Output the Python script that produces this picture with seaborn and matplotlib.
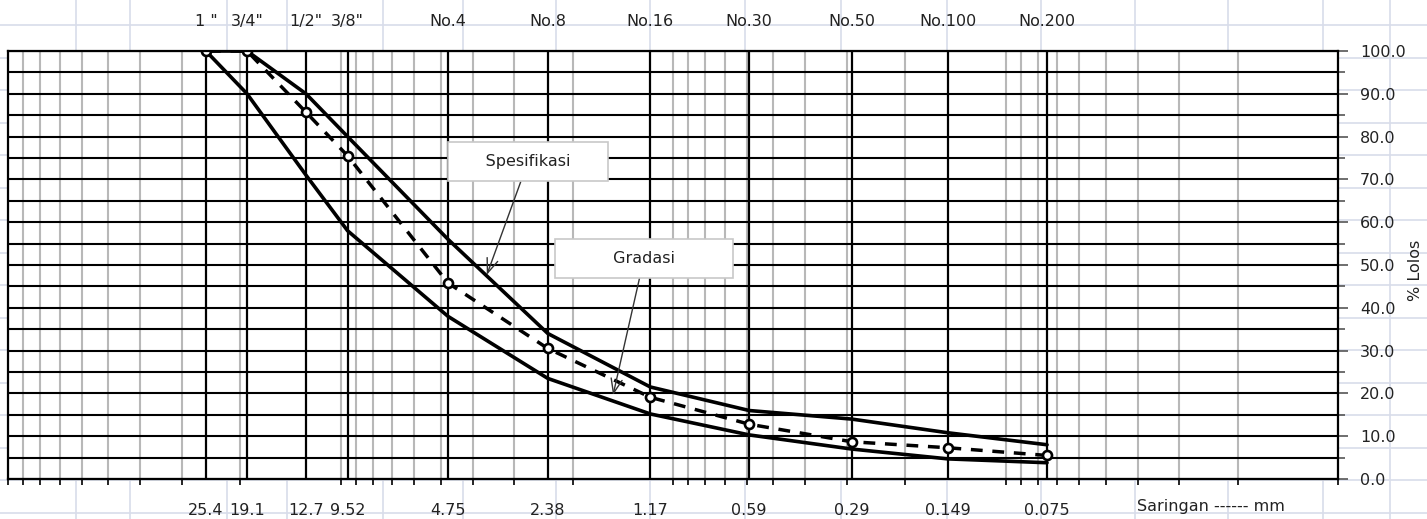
import matplotlib
matplotlib.use('Agg')
import matplotlib.pyplot as plt
import matplotlib.ticker as mticker
from matplotlib.lines import Line2D
import seaborn as sns

# sieve data
sizes = [25.4, 19.1, 12.7, 9.52, 4.75, 2.38, 1.17, 0.59, 0.29, 0.149, 0.075]
size_labels = ['25.4', '19.1', '12.7', '9.52', '4.75', '2.38', '1.17', '0.59', '0.29', '0.149', '0.075']
sieve_names = ['1 "', '3/4"', '1/2"', '3/8"', 'No.4', 'No.8', 'No.16', 'No.30', 'No.50', 'No.100', 'No.200']
gradasi = [100, 100, 85.7, 75.5, 45.8, 30.5, 19.1, 12.8, 8.7, 7.3, 5.5]
spec_upper = [100, 100, 90, 80, 56, 34, 21.5, 16, 14, 10.8, 8]
spec_lower = [100, 90, 71, 58, 38, 23.5, 15.2, 10.3, 7, 4.7, 3.8]

sns.set_style("white")
plt.rcParams['font.family'] = ['DejaVu Sans']
txt = '#222222'

W, H = 1427, 519
fig = plt.figure(figsize=(W / 100, H / 100), dpi=100, facecolor='white')

# spreadsheet cell lines behind the chart
cell_cols = [76, 130, 227, 287, 383, 463, 556, 650, 745, 841, 947, 1041, 1135, 1228, 1323, 1390]
cell_rows = [25 + 32.5 * i for i in range(16)]
for cx in cell_cols:
    fig.add_artist(Line2D([cx / W, cx / W], [0, 1], color='#d8ddea', lw=1.2, zorder=0))
for cy in cell_rows:
    fig.add_artist(Line2D([0, 1], [1 - cy / H, 1 - cy / H], color='#d8ddea', lw=1.2, zorder=0))

ax = fig.add_axes([8 / W, (H - 479) / H, 1330 / W, 428 / H])
ax.set_facecolor('white')
ax.set_xscale('log')
ax.set_xlim(100, 0.01)
ax.set_ylim(0, 100)

# grid: gray log lines vertically, black every 5 % horizontally
ax.xaxis.set_minor_locator(mticker.LogLocator(base=10, subs=range(1, 10), numticks=50))
ax.xaxis.set_minor_formatter(mticker.NullFormatter())
ax.grid(which='minor', axis='x', color='#b8b8b8', lw=1.5, zorder=0)
ax.set_yticks(range(0, 101, 10))
ax.set_yticks(range(0, 101, 5), minor=True)
ax.grid(which='both', axis='y', color='black', lw=1.5, zorder=1)
ax.vlines(sizes, 0, 100, color='black', lw=1.6, zorder=2)

sns.lineplot(x=sizes, y=spec_upper, color='black', lw=2.6, ax=ax, zorder=4)
sns.lineplot(x=sizes, y=spec_lower, color='black', lw=2.6, ax=ax, zorder=4)
sns.lineplot(x=sizes, y=gradasi, color='black', lw=2.5, ax=ax, zorder=5,
             linestyle=(0, (3.4, 2.8)), marker='o', markersize=6.5,
             markerfacecolor='white', markeredgecolor='black', markeredgewidth=1.9)

# bottom axis: sizes in mm
ax.set_xticks(sizes)
ax.set_xticklabels(size_labels)
ax.tick_params(axis='x', which='major', length=0, pad=17, labelsize=11.5, labelcolor=txt)
ax.tick_params(axis='x', which='minor', bottom=True, length=4, width=1.2, color='black')

# right axis: % passing
ax.yaxis.tick_right()
ax.yaxis.set_major_formatter(mticker.FormatStrFormatter('%.1f'))
ax.tick_params(axis='y', which='major', length=7, width=1.2, pad=9, labelsize=11.5,
               labelcolor=txt, color='#555555')
ax.tick_params(axis='y', which='minor', length=5, width=1.2, color='#555555')
ax.set_ylabel('% Lolos', fontsize=11.5, color=txt, rotation=90)
ax.yaxis.set_label_position('right')
ax.yaxis.set_label_coords(1.0526, 0.488)

# top axis: sieve names
top = ax.secondary_xaxis('top')
top.set_xticks(sizes)
top.set_xticklabels(sieve_names)
top.tick_params(axis='x', which='major', length=0, pad=16, labelsize=11.5, labelcolor=txt)
top.tick_params(axis='x', which='minor', length=0)
top.spines['top'].set_visible(False)

for s in ax.spines.values():
    s.set_color('black')
    s.set_linewidth(1.6)
    s.set_zorder(6)

ax.set_xlabel('')
ax.text(1137 / W, 1 - 507 / H, 'Saringan ------ mm', transform=fig.transFigure,
        fontsize=11.5, color=txt, ha='left', va='center')

box = dict(boxstyle='square,pad=0.75', fc='white', ec='#c8c8c8', lw=1.2)
arrow = dict(arrowstyle='->,head_length=0.9,head_width=0.35', color='#333333', lw=1.0,
             shrinkA=0, shrinkB=0)
ax.annotate('     Spesifikasi     ', xy=(3.63, 47.7), xytext=(2.73, 74.1),
            ha='center', va='center', fontsize=11.5, color=txt, bbox=box,
            arrowprops=arrow, zorder=7)
ax.annotate('         Gradasi         ', xy=(1.515, 19.6), xytext=(1.222, 51.6),
            ha='center', va='center', fontsize=11.5, color=txt, bbox=box,
            arrowprops=arrow, zorder=7)

fig.savefig('out.png', dpi=100, facecolor='white')
